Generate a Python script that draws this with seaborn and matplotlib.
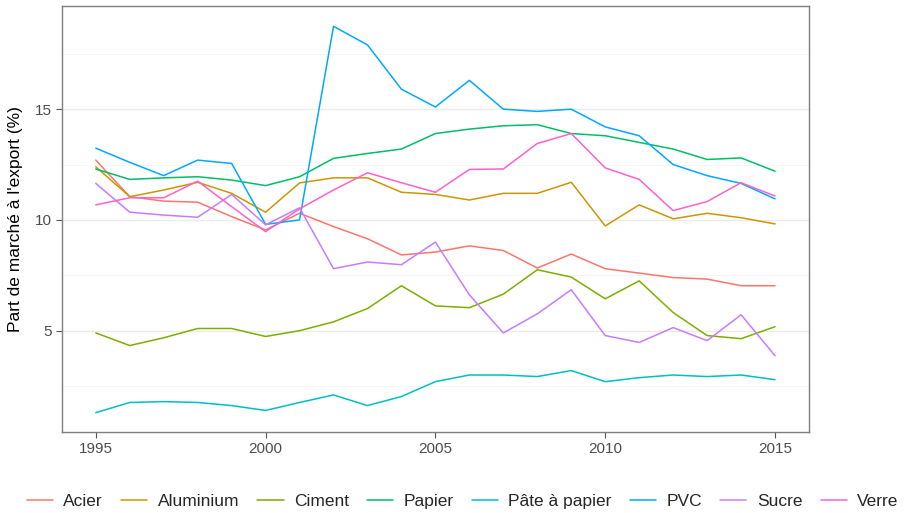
import pandas as pd
import numpy as np
import matplotlib
matplotlib.use("Agg")
import matplotlib.pyplot as plt
import seaborn as sns

# years on the x axis
years = list(range(1995, 2016))

# market share series
acier = [12.7, 11.05, 10.85, 10.8, 10.15, 9.55, 10.3, 9.7, 9.15, 8.42, 8.55,
         8.83, 8.62, 7.83, 8.46, 7.8, 7.6, 7.4, 7.33, 7.03, 7.03]
aluminium = [12.4, 11.05, 11.35, 11.7, 11.2, 10.35, 11.67, 11.9, 11.9, 11.25, 11.15,
             10.9, 11.2, 11.2, 11.7, 9.73, 10.68, 10.05, 10.3, 10.1, 9.82]
ciment = [4.9, 4.33, 4.68, 5.1, 5.1, 4.74, 5.0, 5.4, 6.0, 7.03, 6.12,
          6.04, 6.65, 7.75, 7.42, 6.44, 7.25, 5.82, 4.78, 4.64, 5.18]
papier = [12.3, 11.83, 11.9, 11.95, 11.8, 11.55, 11.95, 12.78, 13.0, 13.2, 13.9,
          14.1, 14.25, 14.3, 13.9, 13.8, 13.5, 13.2, 12.73, 12.8, 12.2]
pate = [1.3, 1.76, 1.8, 1.76, 1.62, 1.4, 1.76, 2.1, 1.62, 2.03, 2.7,
        3.0, 3.0, 2.93, 3.2, 2.7, 2.88, 3.0, 2.93, 3.0, 2.79]
pvc = [13.24, 12.6, 12.0, 12.7, 12.55, 9.8, 10.0, 18.74, 17.9, 15.9, 15.1,
       16.3, 15.0, 14.9, 15.0, 14.2, 13.8, 12.5, 12.0, 11.65, 10.95]
sucre = [11.65, 10.35, 10.22, 10.12, 11.15, 9.78, 10.55, 7.8, 8.1, 7.98, 9.0,
         6.62, 4.9, 5.76, 6.85, 4.78, 4.47, 5.14, 4.55, 5.72, 3.87]
verre = [10.68, 11.0, 11.0, 11.75, 10.6, 9.47, 10.5, 11.35, 12.13, 11.68, 11.25,
         12.28, 12.3, 13.45, 13.9, 12.35, 11.83, 10.42, 10.83, 11.68, 11.08]

produits = ["Acier", "Aluminium", "Ciment", "Papier", "Pâte à papier", "PVC", "Sucre", "Verre"]
series = [acier, aluminium, ciment, papier, pate, pvc, sucre, verre]
couleurs = ["#F8766D", "#CD9600", "#7CAE00", "#00BE67", "#00BFC4", "#00A9FF", "#C77CFF", "#FF61CC"]

# long format for seaborn
df = pd.DataFrame({
    "annee": years * len(produits),
    "part": np.concatenate(series),
    "produit": np.repeat(produits, len(years)),
})

sns.set_theme(style="white")
plt.rcParams["font.family"] = ["Liberation Sans", "DejaVu Sans"]

fig = plt.figure(figsize=(9.09, 5.13), dpi=100)
ax = fig.add_axes([0.068, 0.158, 0.822, 0.830])

sns.lineplot(data=df, x="annee", y="part", hue="produit", hue_order=produits,
             palette=couleurs, linewidth=1.1, ax=ax, legend=True)

ax.set_xlim(1994, 2016)
ax.set_ylim(0.43, 19.65)
ax.set_xticks([1995, 2000, 2005, 2010, 2015])
ax.set_yticks([5, 10, 15])
ax.set_yticks([2.5, 7.5, 12.5, 17.5], minor=True)
ax.yaxis.grid(True, which="major", color="#EBEBEB", linewidth=1.0)
ax.yaxis.grid(True, which="minor", color="#F4F4F4", linewidth=0.6)
ax.xaxis.grid(False)
ax.set_axisbelow(True)
for s in ax.spines.values():
    s.set_color("#7F7F7F")
    s.set_linewidth(1.0)
ax.tick_params(axis="both", which="major", length=4, width=0.8, color="#555555",
               labelsize=11, labelcolor="#4D4D4D", bottom=True, left=True)
ax.tick_params(axis="y", which="minor", length=0)
ax.set_xlabel("")
ax.set_ylabel("Part de marché à l'export (%)", fontsize=12.5, color="black", labelpad=8)

handles, labels = ax.get_legend_handles_labels()
ax.get_legend().remove()
fig.legend(handles, labels, loc="lower center", bbox_to_anchor=(0.509, -0.022), ncol=8,
           frameon=False, fontsize=12.5, handlelength=1.5, columnspacing=1.05,
           handletextpad=0.6)

fig.savefig("out.png", dpi=100)
